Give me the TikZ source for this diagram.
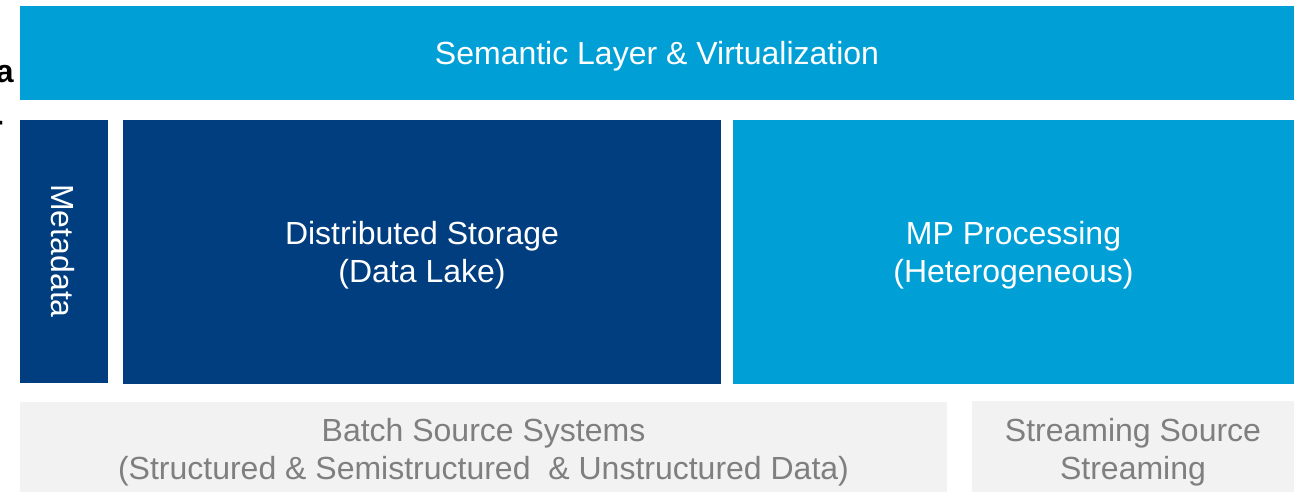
\documentclass[tikz,border=0pt]{standalone}
\usepackage{fontspec}
\setmainfont{Liberation Sans}
\definecolor{lightblue}{HTML}{00A0D6}
\definecolor{darkblue}{HTML}{003E80}
\definecolor{sourcegray}{HTML}{F2F2F2}
\definecolor{sourcetext}{HTML}{7F7F7F}
\begin{document}
\begin{tikzpicture}[x=1pt,y=-1pt,
  bigfont/.style={font=\fontsize{32}{38}\selectfont},
  panel/.style={inner sep=0pt, outer sep=0pt},
  lightlayer/.style={panel, fill=lightblue},
  darklayer/.style={panel, fill=darkblue},
  sourcebox/.style={panel, fill=sourcegray},
  whitetext/.style={bigfont, inner sep=0pt, align=center, text=white},
  graytext/.style={bigfont, inner sep=0pt, align=center, text=sourcetext}]
  \useasboundingbox (0,0) rectangle (1294,492);
  \clip (0,0) rectangle (1294,492);
  \fill[white] (0,0) rectangle (1294,492);

  % semantic layer on top
  \node[lightlayer, minimum width=1274pt, minimum height=94pt] (semanticbox) at (657,53) {};
  \node[whitetext] (semantic) at (657,56) {Semantic Layer \& Virtualization};

  % metadata column, storage and processing
  \node[darklayer, minimum width=88pt, minimum height=263pt] (metabox) at (64,251.5) {};
  \node[whitetext, rotate=-90] (metadata) at (63,251) {Metadata};
  \node[darklayer, minimum width=598pt, minimum height=264pt] (storagebox) at (422,252) {};
  \node[whitetext] (storage) at (422,255) {Distributed Storage\\(Data Lake)};
  \node[lightlayer, minimum width=561pt, minimum height=264pt] (processingbox) at (1013.5,252) {};
  \node[whitetext] (processing) at (1013.5,255) {MP Processing\\(Heterogeneous)};

  % source systems at the bottom
  \node[sourcebox, minimum width=927pt, minimum height=90pt] (batchbox) at (483.5,447) {};
  \node[graytext] (batch) at (483.5,452)
    {Batch Source Systems\\(Structured \& Semistructured \ \& Unstructured Data)};
  \node[sourcebox, minimum width=322pt, minimum height=91pt] (streambox) at (1133,446.5) {};
  \node[graytext] (stream) at (1133,452) {Streaming Source\\Streaming};

  % title text running off the left edge
  \node[inner sep=0pt, anchor=base east] (titleA) at (14,83) {\fontsize{32}{38}\selectfont\bfseries Data};
  \node[inner sep=0pt, anchor=base east] (titleB) at (3,139) {\fontsize{32}{38}\selectfont\bfseries Layer};
\end{tikzpicture}
\end{document}
